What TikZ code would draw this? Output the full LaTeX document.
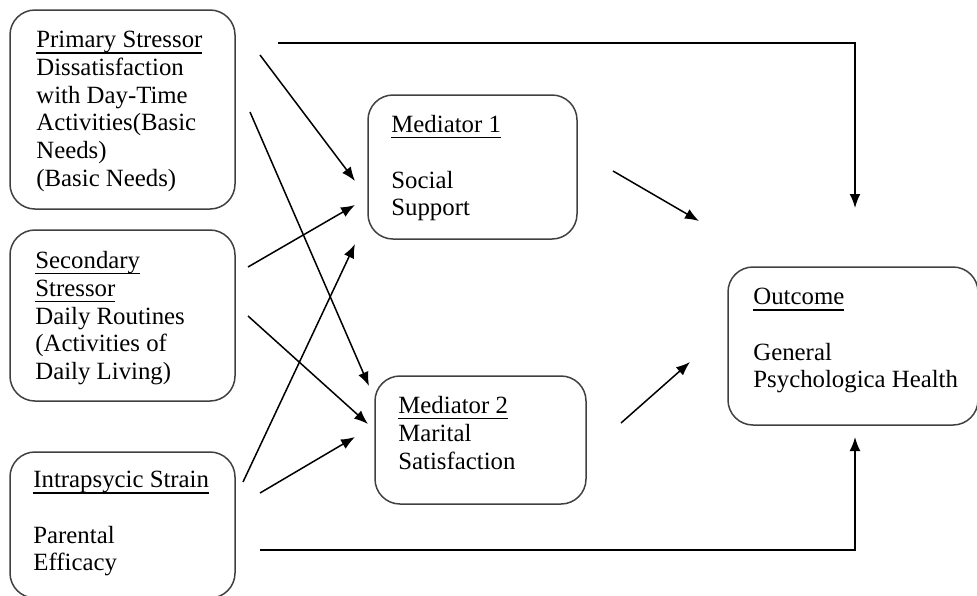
\documentclass[tikz,border=0pt]{standalone}
\usepackage{fontspec}
\setmainfont{Liberation Serif}
\newcommand\myul[1]{\leavevmode\setbox0\hbox{#1}\rlap{\vrule width\wd0 height -2.1pt depth 2.85pt}\box0}
\usetikzlibrary{arrows.meta}
\begin{document}
\begin{tikzpicture}[x=0.5pt,y=-0.5pt,
  box/.style={draw=black!75, line width=0.75pt, rounded corners=12.5pt, inner sep=0pt, outer sep=0pt},
  txt/.style={anchor=north west, align=left, inner sep=0pt, font=\fontsize{12.4pt}{13.85pt}\selectfont},
  arr/.style={line width=0.75pt, -{Latex[length=7pt,width=5.4pt]}}]
\useasboundingbox (0,0) rectangle (977,595);
% boxes
\node[box, minimum width=112.5pt, minimum height=99.5pt] (ps) at (122.5,109.5) {};
\node[box, minimum width=112.5pt, minimum height=85.5pt] (ss) at (122.5,315.5) {};
\node[box, minimum width=112.5pt, minimum height=73pt] (is) at (122.5,525) {};
\node[box, minimum width=104.5pt, minimum height=72pt] (m1) at (472.5,167) {};
\node[box, minimum width=105.5pt, minimum height=64pt] (m2) at (480.5,440) {};
\node[box, minimum width=125pt, minimum height=79pt] (oc) at (853,346) {};
% texts
\node[txt] (pst) at (36,31) {\myul{Primary Stressor}\\Dissatisfaction\\with Day-Time\\Activities(Basic\\Needs)\\(Basic Needs)};
\node[txt] (sst) at (35,251) {\myul{Secondary}\\\myul{Stressor}\\Daily Routines\\(Activities of\\Daily Living)};
\node[txt] (ist) at (33,471) {\myul{Intrapsycic Strain}\\[13.85pt]Parental\\Efficacy};
\node[txt] (m1t) at (391,115) {\myul{Mediator 1}\\[13.85pt]Social\\Support};
\node[txt] (m2t) at (398,396) {\myul{Mediator 2}\\Marital\\Satisfaction};
\node[txt] (oct) at (753,288) {\myul{Outcome}\\[13.85pt]General\\Psychologica Health};
% connector end points
\coordinate (a1) at (278,43);  \coordinate (c1) at (855,43);  \coordinate (b1) at (855,208);
\coordinate (a2) at (260,55);  \coordinate (b2) at (355,181);
\coordinate (a3) at (250,112); \coordinate (b3) at (369,386);
\coordinate (a4) at (248,267); \coordinate (b4) at (355,205);
\coordinate (a5) at (248,316); \coordinate (b5) at (368,424);
\coordinate (a6) at (243,482); \coordinate (b6) at (355,244);
\coordinate (a7) at (260,493); \coordinate (b7) at (355,437);
\coordinate (a8) at (260,550); \coordinate (c8) at (855,550); \coordinate (b8) at (855,437);
\coordinate (a9) at (613,171); \coordinate (b9) at (699,221);
\coordinate (a10) at (621,423); \coordinate (b10) at (690,362);
% connectors
\draw[arr] (a1) -- (c1) -- (b1);
\draw[arr] (a2) -- (b2);
\draw[arr] (a3) -- (b3);
\draw[arr] (a4) -- (b4);
\draw[arr] (a5) -- (b5);
\draw[arr] (a6) -- (b6);
\draw[arr] (a7) -- (b7);
\draw[arr] (a8) -- (c8) -- (b8);
\draw[arr] (a9) -- (b9);
\draw[arr] (a10) -- (b10);
\end{tikzpicture}
\end{document}
